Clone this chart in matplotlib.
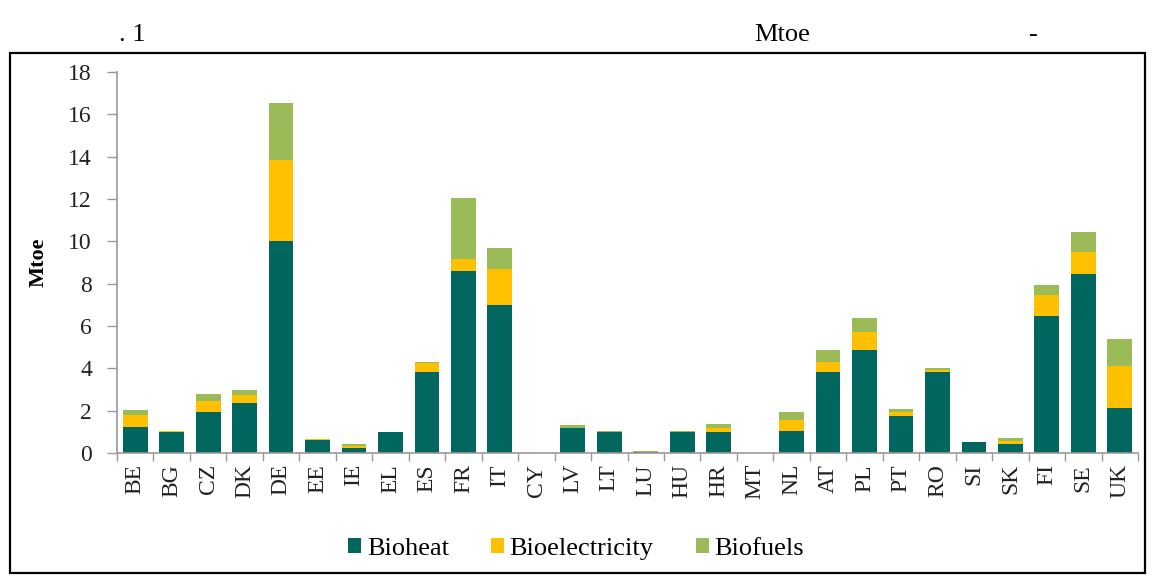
import matplotlib
matplotlib.use("Agg")
import matplotlib.pyplot as plt
from matplotlib.patches import Rectangle
import numpy as np

countries = ["BE", "BG", "CZ", "DK", "DE", "EE", "IE", "EL", "ES", "FR", "IT", "CY", "LV", "LT",
             "LU", "HU", "HR", "MT", "NL", "AT", "PL", "PT", "RO", "SI", "SK", "FI", "SE", "UK"]
bioheat = [1.25, 1.0, 1.95, 2.35, 10.0, 0.62, 0.22, 1.0, 3.85, 8.6, 7.0, 0.0, 1.17, 1.0,
           0.05, 1.0, 0.97, 0.0, 1.02, 3.85, 4.85, 1.75, 3.85, 0.52, 0.42, 6.45, 8.45, 2.12]
bioelectricity = [0.55, 0.03, 0.5, 0.4, 3.85, 0.03, 0.1, 0.0, 0.38, 0.55, 1.7, 0.0, 0.03, 0.0,
                  0.01, 0.0, 0.2, 0.0, 0.55, 0.45, 0.85, 0.2, 0.05, 0.0, 0.15, 1.0, 1.05, 2.0]
biofuels = [0.22, 0.02, 0.35, 0.22, 2.7, 0.0, 0.1, 0.0, 0.07, 2.9, 1.0, 0.02, 0.12, 0.02,
            0.02, 0.02, 0.2, 0.0, 0.35, 0.55, 0.7, 0.15, 0.12, 0.0, 0.13, 0.5, 0.95, 1.25]

c_heat, c_elec, c_fuel = "#00665E", "#FFC000", "#9BBB59"
serif = ["Liberation Serif", "DejaVu Serif"]
plt.rcParams["font.family"] = serif

fig = plt.figure(figsize=(11.52, 5.85), dpi=100)
ax = fig.add_axes([117 / 1152, 1 - 453 / 585, 1021 / 1152, 381 / 585])

x = np.arange(len(countries))
heat = np.array(bioheat); elec = np.array(bioelectricity); fuel = np.array(biofuels)
w = 0.68
ax.bar(x, heat, w, color=c_heat, label="Bioheat")
ax.bar(x, elec, w, bottom=heat, color=c_elec, label="Bioelectricity")
ax.bar(x, fuel, w, bottom=heat + elec, color=c_fuel, label="Biofuels")

ax.set_xlim(-0.5, len(countries) - 0.5)
ax.set_ylim(0, 18)
ax.set_yticks(np.arange(0, 19, 2))
ax.set_xticks(x)
ax.set_xticklabels(countries, rotation=90, fontsize=17, color="#222222")
ax.set_xticks(np.arange(-0.5, len(countries), 1), minor=True)
ax.tick_params(axis="x", which="major", length=0, pad=8)
ax.tick_params(axis="x", which="minor", length=6, color="#999999", width=1)
ax.tick_params(axis="y", length=7, color="#999999", width=1, labelsize=17, pad=11,
               labelcolor="#222222")
for s in ("top", "right"):
    ax.spines[s].set_visible(False)
for s in ("left", "bottom"):
    ax.spines[s].set_color("#999999")
    ax.spines[s].set_linewidth(1.2)
ax.set_ylabel("Mtoe", fontsize=16, fontweight="bold", labelpad=14)

fig.legend(loc="center", bbox_to_anchor=(0.5, 1 - 549 / 585), ncol=3, frameon=False,
           fontsize=19, handlelength=0.5, handleheight=0.5, handletextpad=0.2, columnspacing=1.6)

fig.patches.append(Rectangle((10 / 1152, 1 - 573 / 585), 1135 / 1152, 520 / 585,
                             transform=fig.transFigure, fill=False, edgecolor="black", lw=1.6))
fig.text(132 / 1152, 1 - 35 / 585, ". 1", fontsize=19, ha="center", va="center")
fig.text(782 / 1152, 1 - 35 / 585, "Mtoe", fontsize=19, ha="center", va="center")
fig.text(1033 / 1152, 1 - 35 / 585, "-", fontsize=19, ha="center", va="center")

fig.savefig("out.png", dpi=100)
